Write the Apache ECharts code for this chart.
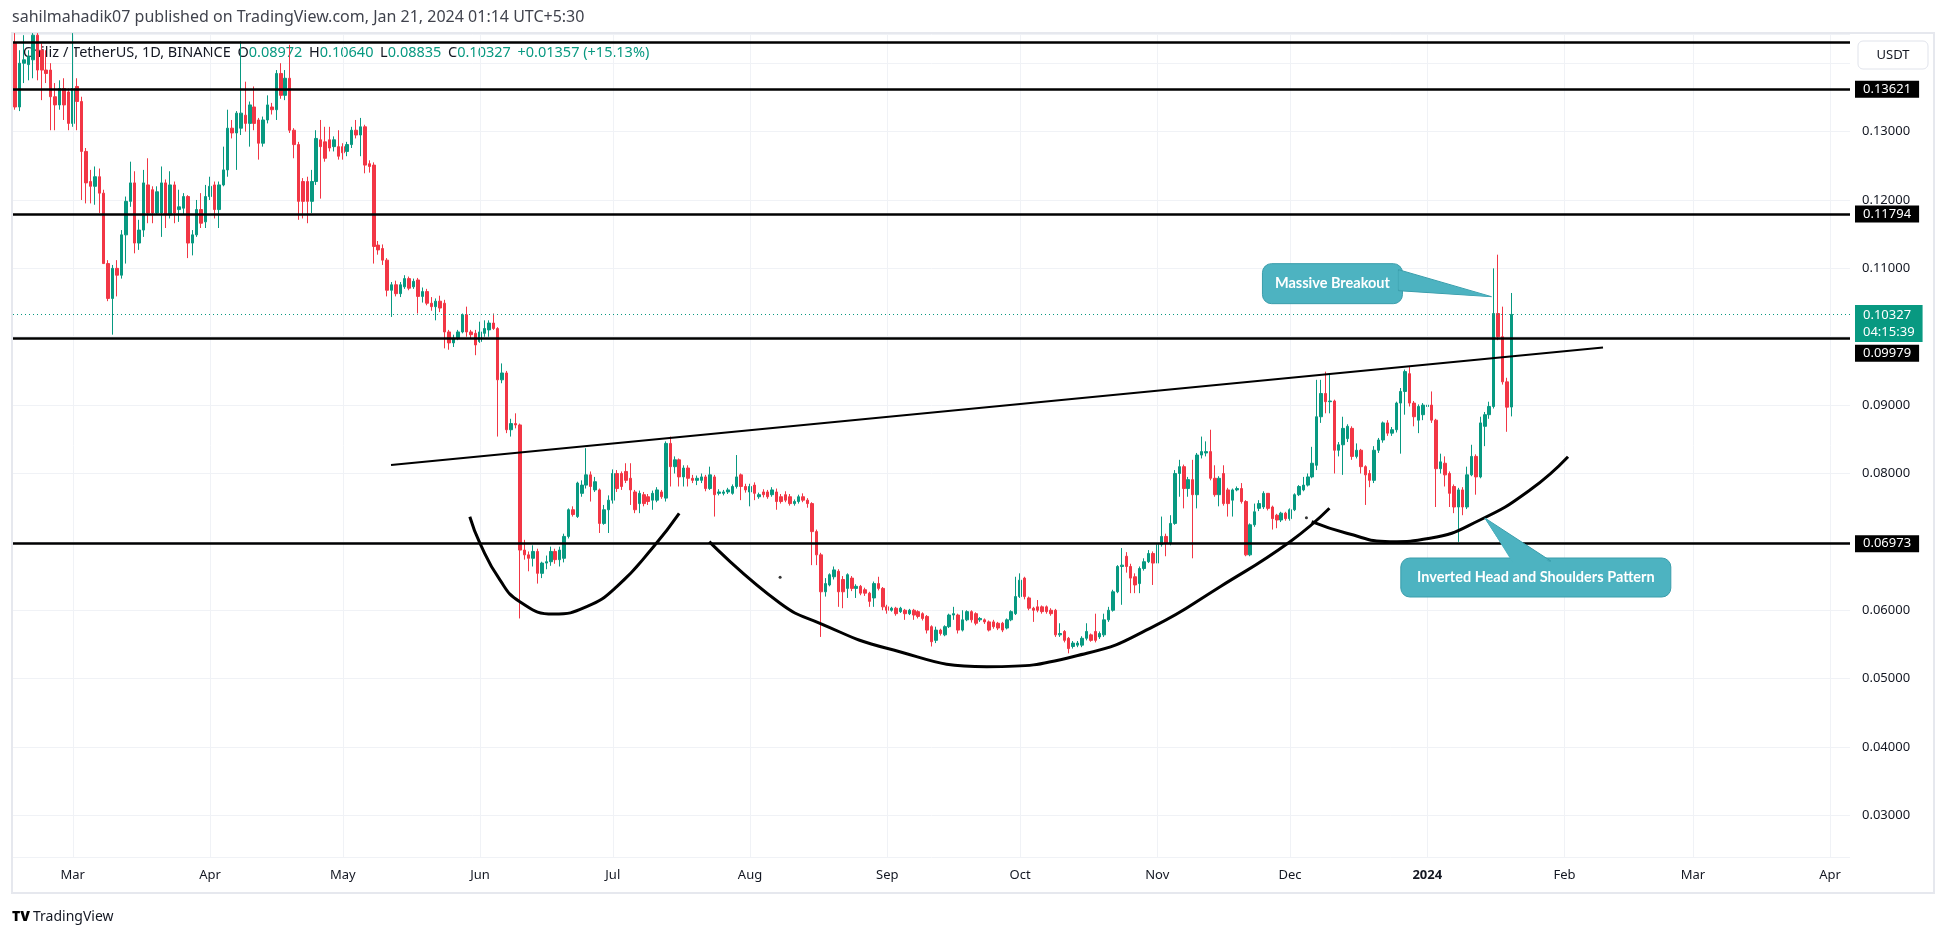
<!DOCTYPE html>
<html><head><meta charset="utf-8">
<script src="https://cdn.jsdelivr.net/npm/echarts@6/dist/echarts.min.js"></script>
<style>html,body{margin:0;padding:0;background:#fff}#c{width:1946px;height:937px}</style>
</head><body><div id="c"></div>
<script>
// ---------- DATA ----------
// candle rows: [open, close, low, high], one per day from 2023-02-16
const feb23 = [
[.1429,.1336,.1332,.1444],[.1336,.1400,.1330,.1419],[.1400,.1405,.1371,.1441],[.1398,.1410,.1375,.1419],
[.1405,.1441,.1378,.1444],[.1441,.1390,.1375,.1444],[.1419,.1390,.1346,.1429],[.1390,.1385,.1371,.1419],
[.1390,.1351,.1302,.1400],[.1351,.1339,.1302,.1371],[.1339,.1363,.1332,.1375],[.1363,.1339,.1317,.1378],
[.1358,.1312,.1302,.1363]];
const mar23 = [
[.1312,.1363,.1307,.1444],[.1366,.1344,.1302,.1378],[.1344,.1271,.1200,.1351],[.1271,.1225,.1195,.1276],
[.1227,.1220,.1195,.1244],[.1220,.1234,.1193,.1249],[.1234,.1210,.1181,.1246],[.1210,.1107,.1107,.1215],
[.1107,.1056,.1052,.1112],[.1056,.1100,.1003,.1105],[.1100,.1090,.1059,.1112],[.1090,.1149,.1085,.1156],
[.1149,.1198,.1107,.1205],[.1198,.1225,.1190,.1256],[.1225,.1137,.1122,.1242],[.1137,.1156,.1127,.1171],
[.1156,.1225,.1146,.1244],[.1222,.1181,.1166,.1261],[.1215,.1181,.1166,.1220],[.1181,.1212,.1178,.1220],
[.1181,.1225,.1146,.1249],[.1225,.1178,.1159,.1230],[.1178,.1222,.1173,.1242],[.1222,.1181,.1166,.1227],
[.1186,.1190,.1168,.1215],[.1188,.1205,.1178,.1210],[.1205,.1137,.1115,.1207],[.1137,.1149,.1119,.1156],
[.1149,.1186,.1146,.1200],[.1186,.1166,.1159,.1210],[.1168,.1205,.1159,.1222]];
const apr23 = [
[.1205,.1220,.1200,.1234],[.1222,.1186,.1173,.1227],[.1186,.1222,.1159,.1227],[.1222,.1244,.1220,.1278],
[.1244,.1305,.1234,.1332],[.1305,.1298,.1290,.1317],[.1298,.1327,.1244,.1330],[.1305,.1327,.1295,.1432],
[.1324,.1312,.1300,.1373],[.1312,.1339,.1278,.1344],[.1336,.1312,.1302,.1366],[.1317,.1283,.1259,.1320],
[.1283,.1317,.1278,.1322],[.1317,.1339,.1312,.1353],[.1336,.1332,.1325,.1342],[.1332,.1385,.1317,.1390],
[.1385,.1353,.1348,.1400],[.1353,.1378,.1346,.1390],[.1378,.1302,.1298,.1427],[.1302,.1281,.1261,.1305],
[.1281,.1198,.1171,.1285],[.1227,.1198,.1173,.1232],[.1227,.1198,.1166,.1234],[.1198,.1227,.1181,.1244],
[.1227,.1290,.1222,.1302],[.1288,.1278,.1202,.1317],[.1285,.1261,.1256,.1307],[.1288,.1276,.1271,.1307],
[.1278,.1288,.1271,.1293],[.1278,.1264,.1259,.1302]];
const may23 = [
[.1278,.1269,.1259,.1283],[.1271,.1281,.1264,.1285],[.1281,.1302,.1276,.1307],[.1302,.1295,.1290,.1317],
[.1295,.1307,.1264,.1320],[.1307,.1251,.1239,.1310],[.1253,.1249,.1240,.1258],[.1251,.1132,.1107,.1255],
[.1134,.1127,.1120,.1140],[.1129,.1112,.1105,.1135],[.1112,.1068,.1059,.1115],[.1068,.1076,.1029,.1080],
[.1076,.1063,.1059,.1082],[.1063,.1076,.1058,.1080],[.1073,.1085,.1070,.1090],[.1085,.1071,.1068,.1088],
[.1073,.1081,.1070,.1085],[.1083,.1059,.1034,.1086],[.1059,.1066,.1050,.1072],[.1066,.1049,.1046,.1070],
[.1049,.1044,.1038,.1058],[.1044,.1052,.1024,.1056],[.1052,.1042,.1036,.1060],[.1049,.1007,.0983,.1054],
[.1007,.0991,.0981,.1010],[.0991,.0998,.0985,.1003],[.0998,.1007,.0995,.1010],[.1007,.1032,.1005,.1034],
[.1032,.1007,.1000,.1044],[.1007,.1003,.0998,.1010],[.1005,.0988,.0973,.1010]];
const jun23 = [
[.0993,.1007,.0991,.1022],[.1005,.1012,.1000,.1024],[.1010,.1020,.1000,.1024],[.1020,.1012,.1010,.1034],
[.1012,.0937,.0854,.1014],[.0937,.0947,.0932,.0961],[.0947,.0864,.0859,.0950],[.0864,.0873,.0854,.0880],
[.0873,.0871,.0866,.0888],[.0871,.0688,.0588,.0873],[.0688,.0681,.0674,.0703],[.0681,.0676,.0657,.0686],
[.0676,.0686,.0664,.0695],[.0686,.0654,.0639,.0690],[.0654,.0669,.0647,.0671],[.0669,.0671,.0660,.0680],
[.0671,.0686,.0665,.0693],[.0686,.0674,.0668,.0690],[.0674,.0688,.0664,.0693],[.0676,.0708,.0670,.0712],
[.0708,.0747,.0705,.0749],[.0747,.0740,.0737,.0752],[.0737,.0786,.0735,.0788],[.0771,.0783,.0766,.0790],
[.0783,.0798,.0778,.0837],[.0798,.0781,.0759,.0803],[.0776,.0788,.0773,.0795],[.0776,.0727,.0713,.0778],
[.0727,.0747,.0725,.0754],[.0747,.0761,.0713,.0768]];
const jul23 = [
[.0761,.0800,.0756,.0806],[.0800,.0778,.0773,.0805],[.0800,.0781,.0776,.0803],[.0803,.0790,.0786,.0815],
[.0793,.0776,.0754,.0815],[.0773,.0747,.0742,.0776],[.0756,.0771,.0742,.0775],[.0769,.0756,.0752,.0773],
[.0766,.0759,.0754,.0770],[.0761,.0771,.0747,.0775],[.0761,.0776,.0758,.0780],[.0773,.0766,.0763,.0776],
[.0764,.0844,.0759,.0847],[.0844,.0810,.0781,.0854],[.0810,.0820,.0800,.0825],[.0820,.0795,.0781,.0822],
[.0795,.0808,.0781,.0812],[.0808,.0793,.0781,.0812],[.0793,.0790,.0786,.0798],[.0790,.0793,.0783,.0797],
[.0790,.0795,.0786,.0800],[.0795,.0778,.0774,.0798],[.0778,.0798,.0776,.0810],[.0795,.0769,.0737,.0798],
[.0771,.0773,.0768,.0777],[.0771,.0773,.0768,.0776],[.0773,.0776,.0770,.0779],[.0771,.0781,.0769,.0784],
[.0781,.0795,.0778,.0827],[.0798,.0781,.0761,.0800],[.0781,.0776,.0772,.0785]];
const aug23 = [
[.0773,.0781,.0752,.0785],[.0783,.0771,.0761,.0787],[.0766,.0769,.0763,.0772],[.0773,.0769,.0765,.0777],
[.0773,.0766,.0763,.0776],[.0769,.0776,.0766,.0780],[.0773,.0759,.0747,.0778],[.0766,.0759,.0756,.0770],
[.0769,.0761,.0758,.0774],[.0766,.0756,.0753,.0770],[.0756,.0759,.0753,.0762],[.0759,.0766,.0756,.0769],
[.0766,.0761,.0758,.0771],[.0761,.0756,.0750,.0764],[.0756,.0715,.0666,.0758],[.0715,.0681,.0666,.0718],
[.0681,.0627,.0561,.0684],[.0627,.0639,.0620,.0647],[.0637,.0652,.0635,.0654],[.0649,.0659,.0645,.0664],
[.0657,.0627,.0605,.0660],[.0645,.0627,.0603,.0650],[.0632,.0652,.0618,.0654],[.0647,.0632,.0628,.0650],
[.0632,.0635,.0618,.0638],[.0635,.0625,.0622,.0637],[.0630,.0625,.0621,.0633],[.0625,.0613,.0605,.0627],
[.0618,.0639,.0605,.0642],[.0639,.0632,.0629,.0649],[.0632,.0605,.0600,.0634]];
const sep23 = [
[.0605,.0600,.0595,.0608],[.0600,.0603,.0598,.0605],[.0603,.0595,.0592,.0605],[.0598,.0603,.0596,.0605],
[.0600,.0595,.0586,.0602],[.0595,.0600,.0593,.0602],[.0600,.0593,.0586,.0602],[.0598,.0591,.0588,.0600],
[.0595,.0588,.0585,.0597],[.0591,.0571,.0566,.0593],[.0576,.0554,.0547,.0578],[.0556,.0571,.0552,.0576],
[.0571,.0566,.0563,.0573],[.0564,.0576,.0562,.0578],[.0576,.0593,.0574,.0595],[.0593,.0595,.0586,.0605],
[.0593,.0571,.0566,.0595],[.0571,.0586,.0569,.0600],[.0586,.0598,.0584,.0600],[.0598,.0586,.0582,.0600],
[.0595,.0581,.0578,.0597],[.0586,.0588,.0583,.0590],[.0586,.0583,.0580,.0588],[.0583,.0571,.0569,.0585],
[.0583,.0576,.0573,.0586],[.0581,.0574,.0571,.0583],[.0581,.0571,.0568,.0583],[.0574,.0586,.0572,.0588],
[.0586,.0598,.0584,.0600],[.0595,.0620,.0593,.0649]];
const oct23 = [
[.0620,.0644,.0618,.0654],[.0647,.0620,.0616,.0649],[.0618,.0603,.0600,.0620],[.0603,.0600,.0583,.0605],
[.0605,.0600,.0597,.0615],[.0605,.0598,.0595,.0607],[.0605,.0598,.0595,.0607],[.0600,.0595,.0592,.0603],
[.0600,.0564,.0561,.0602],[.0564,.0566,.0561,.0581],[.0569,.0556,.0553,.0571],[.0559,.0544,.0537,.0561],
[.0547,.0552,.0544,.0555],[.0549,.0552,.0546,.0555],[.0549,.0559,.0546,.0562],[.0559,.0569,.0556,.0581],
[.0564,.0556,.0554,.0566],[.0569,.0556,.0553,.0595],[.0561,.0566,.0558,.0569],[.0564,.0586,.0561,.0595],
[.0586,.0600,.0583,.0605],[.0600,.0627,.0598,.0630],[.0627,.0664,.0625,.0666],[.0664,.0666,.0608,.0691],
[.0679,.0664,.0655,.0685],[.0664,.0647,.0625,.0668],[.0649,.0637,.0625,.0654],[.0639,.0661,.0625,.0664],
[.0661,.0671,.0658,.0676],[.0671,.0683,.0669,.0688],[.0683,.0669,.0637,.0686]];
const nov23 = [
[.0669,.0696,.0649,.0700],[.0696,.0708,.0693,.0737],[.0708,.0698,.0679,.0712],[.0698,.0727,.0695,.0739],
[.0727,.0800,.0725,.0805],[.0800,.0810,.0766,.0820],[.0810,.0778,.0749,.0813],[.0778,.0791,.0766,.0795],
[.0791,.0769,.0676,.0820],[.0769,.0827,.0749,.0830],[.0827,.0832,.0822,.0854],[.0830,.0832,.0825,.0847],
[.0832,.0793,.0790,.0864],[.0793,.0769,.0766,.0812],[.0769,.0793,.0752,.0796],[.0800,.0756,.0753,.0812],
[.0776,.0756,.0737,.0779],[.0761,.0776,.0737,.0778],[.0776,.0778,.0774,.0781],[.0778,.0759,.0756,.0786],
[.0759,.0681,.0679,.0761],[.0681,.0725,.0679,.0727],[.0725,.0744,.0722,.0756],[.0749,.0756,.0745,.0761],
[.0751,.0771,.0748,.0774],[.0771,.0749,.0746,.0771],[.0751,.0734,.0718,.0753],[.0739,.0732,.0720,.0741],
[.0732,.0742,.0729,.0744],[.0742,.0734,.0731,.0744]];
const dec23 = [
[.0734,.0747,.0731,.0749],[.0747,.0769,.0745,.0771],[.0769,.0781,.0767,.0783],[.0776,.0783,.0774,.0795],
[.0783,.0795,.0781,.0800],[.0795,.0815,.0793,.0839],[.0812,.0883,.0805,.0937],[.0883,.0917,.0874,.0937],
[.0917,.0905,.0888,.0949],[.0905,.0906,.0888,.0946],[.0906,.0834,.0800,.0908],[.0834,.0842,.0825,.0846],
[.0842,.0866,.0798,.0883],[.0851,.0869,.0846,.0872],[.0866,.0825,.0820,.0869],[.0825,.0834,.0822,.0844],
[.0834,.0810,.0800,.0836],[.0810,.0798,.0754,.0812],[.0800,.0790,.0780,.0805],[.0790,.0834,.0786,.0840],
[.0834,.0849,.0830,.0852],[.0849,.0874,.0845,.0876],[.0874,.0859,.0855,.0878],[.0859,.0864,.0855,.0868],
[.0864,.0903,.0860,.0905],[.0903,.0920,.0829,.0925],[.0920,.0949,.0886,.0952],[.0946,.0903,.0898,.0956],
[.0903,.0883,.0869,.0906],[.0878,.0898,.0859,.0901],[.0886,.0900,.0878,.0903]];
const jan24 = [
[.0898,.0900,.0876,.0908],[.0900,.0878,.0874,.0920],[.0878,.0807,.0751,.0880],[.0807,.0817,.0800,.0829],
[.0815,.0798,.0781,.0825],[.0800,.0771,.0751,.0803],[.0781,.0751,.0742,.0784],[.0751,.0776,.0700,.0779],
[.0776,.0751,.0739,.0780],[.0751,.0798,.0748,.0810],[.0798,.0825,.0796,.0842],[.0825,.0795,.0769,.0828],
[.0795,.0874,.0793,.0883],[.0869,.0886,.0840,.0890],[.0886,.0898,.0880,.0905],[.0898,.1034,.0895,.1100],
[.1034,.1000,.0995,.1120],[.1000,.0934,.0930,.1044],[.0934,.0897,.0861,.0940],[.08972,.10327,.08835,.10640]];

const startDate = '2023-02-16';
const dayCount = 415;                       // category slots on the time axis (to 2024-04-05)
const levels = [0.1431, 0.13621, 0.11794, 0.09979, 0.06973];
const levelLabels = ['', '0.13621', '0.11794', '0.09979', '0.06973'];
const countdown = '04:15:39';
// drawings: [day offset from 2023-03-01, price]
const trendline = [[71.9, 0.08124], [345.7, 0.09843]];
const leftShoulder = [[89.7,0.07368],[92.0,0.06979],[96.5,0.06443],[101.0,0.06125],[108.6,0.05945],[116.1,0.06052],[122.9,0.06345],[131.2,0.06930],[137.0,0.07418]];
const headCurve = [[143.8,0.07003],[159.8,0.06102],[168.8,0.05809],[183.9,0.05444],[206.5,0.05175],[229.1,0.05371],[244.1,0.05760],[259.2,0.06345],[275.0,0.07003],[283.9,0.07491]];
const rightShoulder = [[279.9,0.07295],[287.8,0.07126],[297.6,0.07003],[306.6,0.07052],[317.9,0.07320],[329.2,0.07759],[337.8,0.08246]];
const dots = [[159.8,0.06482],[278.7,0.07354]];
const calloutTexts = ['Massive Breakout', 'Inverted Head and Shoulders Pattern'];
const calloutTips = [[320.5, 0.10586], [319.0, 0.07349]];
const titleText = 'sahilmahadik07 published on TradingView.com, Jan 21, 2024 01:14 UTC+5:30';
const symbolText = 'Chiliz / TetherUS, 1D, BINANCE';

// ---------- BUILD ----------
const candles = [].concat(feb23, mar23, apr23, may23, jun23, jul23, aug23, sep23, oct23, nov23, dec23, jan24);
const t0 = Date.parse(startDate + 'T00:00:00Z');
const dates = [];
for (let i = 0; i < dayCount; i++) dates.push(new Date(t0 + i * 86400000).toISOString().slice(0, 10));
const monthStarts = dates.filter(d => d.slice(8) === '01');
const MON = ['Jan','Feb','Mar','Apr','May','Jun','Jul','Aug','Sep','Oct','Nov','Dec'];
const offset0 = dates.indexOf('2023-03-01');   // value-axis day 0
const last = candles[candles.length - 1];
const prev = candles[candles.length - 2];
const lastPrice = last[1];
const chg = last[1] - prev[1];
const pct = chg / prev[1] * 100;
const UP = '#089981', DOWN = '#F23645';
const FONT = '"Noto Sans", Roboto, sans-serif';

const chart = echarts.init(document.getElementById('c'), null, {renderer: 'canvas'});
const gridTop = 34, gridBottom = 80;
const yMax = 0.144273, yMin = 0.023916;

chart.setOption({
  animation: false,
  backgroundColor: '#ffffff',
  grid: {left: 13, right: 96, top: gridTop, bottom: gridBottom, containLabel: false},
  xAxis: [{
    type: 'category', data: dates, boundaryGap: true,
    axisLine: {show: false}, axisTick: {show: false}, splitLine: {show: false},
    axisLabel: {
      interval: (i, v) => v.slice(8) === '01', margin: 12,
      color: '#131722', fontSize: 13, fontFamily: FONT,
      formatter: v => { const m = +v.slice(5, 7); return m === 1 ? '{b|' + v.slice(0, 4) + '}' : MON[m - 1]; },
      rich: {b: {fontWeight: 'bold', fontSize: 13, fontFamily: FONT, color: '#131722'}}
    }
  }, {
    type: 'value', min: -offset0 - 0.5, max: dayCount - offset0 - 0.5, show: false
  }],
  yAxis: [{
    type: 'value', position: 'right', min: yMin, max: yMax, scale: true,
    minInterval: 0.01, maxInterval: 0.01, splitNumber: 12,
    axisLine: {show: false}, axisTick: {show: false},
    splitLine: {show: true, lineStyle: {color: '#f0f2f6', width: 1}},
    axisLabel: {margin: 12, color: '#131722', fontSize: 13, fontFamily: FONT,
      showMinLabel: false, showMaxLabel: false, formatter: v => v.toFixed(5)}
  }],
  series: [
    { // month grid lines
      type: 'line', data: [], z: 1, silent: true,
      markLine: {silent: true, symbol: 'none', label: {show: false}, precision: 6,
        lineStyle: {color: '#f0f2f6', type: 'solid', width: 1},
        data: monthStarts.map(m => ({xAxis: m}))}
    },
    { // last price dotted line
      type: 'line', data: [], z: 1, silent: true,
      markLine: {silent: true, symbol: 'none', precision: 6,
        lineStyle: {color: UP, type: [1, 3], width: 1},
        label: {show: true, position: 'end', distance: 5, offset: [0, 9],
          formatter: () => lastPrice.toFixed(5) + '\n' + countdown,
          backgroundColor: UP, color: '#fff', fontSize: 13, fontFamily: FONT, lineHeight: 17,
          padding: [2, 8, 1, 8]},
        data: [{yAxis: lastPrice}]}
    },
    {
      type: 'candlestick', data: candles, z: 2, barWidth: 3,
      itemStyle: {color: UP, color0: DOWN, borderColor: UP, borderColor0: DOWN, borderWidth: 1}
    },
    { // horizontal levels
      type: 'line', data: [], z: 4, silent: true,
      markLine: {silent: true, symbol: 'none', precision: 6,
        lineStyle: {color: '#000', type: 'solid', width: 2.5},
        data: levels.map((v, i) => ({
          yAxis: v,
          label: {show: !!levelLabels[i], position: 'end', distance: 5,
            offset: levelLabels[i] === '0.09979' ? [0, 15] : [0, 0],
            formatter: levelLabels[i], backgroundColor: '#000', color: '#fff',
            fontSize: 13, fontFamily: FONT, lineHeight: 15, padding: [1, 8, 1, 8]}
        }))}
    },
    {type: 'line', xAxisIndex: 1, data: trendline, z: 5, symbol: 'none', silent: true,
      lineStyle: {color: '#000', width: 2}},
    {type: 'line', xAxisIndex: 1, data: leftShoulder, z: 5, symbol: 'none', smooth: 0.5, silent: true,
      lineStyle: {color: '#000', width: 3}},
    {type: 'line', xAxisIndex: 1, data: headCurve, z: 5, symbol: 'none', smooth: 0.5, silent: true,
      lineStyle: {color: '#000', width: 3}},
    {type: 'line', xAxisIndex: 1, data: rightShoulder, z: 5, symbol: 'none', smooth: 0.5, silent: true,
      lineStyle: {color: '#000', width: 3}},
    {type: 'scatter', xAxisIndex: 1, data: dots, z: 5, symbolSize: 3, silent: true, itemStyle: {color: '#000'}},
    {
      type: 'custom', xAxisIndex: 1, z: 6, silent: true, clip: false,
      data: calloutTips,
      renderItem: (params, api) => {
        const p = api.coord([api.value(0), api.value(1)]);
        const i = params.dataIndex;
        const fill = '#4db3c1', stroke = '#3a9dab';
        let box, wedge;
        if (i === 0) {
          box = {x: p[0] - 229, y: p[1] - 33, width: 140, height: 40};
          wedge = [[box.x + 136, box.y + 6], [p[0], p[1]], [box.x + 136, box.y + 27]];
        } else {
          box = {x: p[0] - 84, y: p[1] + 40, width: 270, height: 39};
          wedge = [[p[0] + 28, box.y + 3], [p[0], p[1]], [p[0] + 66, box.y + 3]];
        }
        return {type: 'group', children: [
          {type: 'rect', shape: Object.assign({r: 9}, box), style: {fill: fill, stroke: stroke, lineWidth: 1}},
          {type: 'polygon', shape: {points: wedge}, style: {fill: fill, stroke: stroke, lineWidth: 1}},
          {type: 'polygon', shape: {points: [[wedge[0][0], wedge[0][1] + (i === 0 ? 1 : 2)], wedge[1].slice(), [wedge[2][0], wedge[2][1] + (i === 0 ? -1 : 2)]]}, style: {fill: fill}},
          {type: 'text', style: {text: calloutTexts[i], x: box.x + box.width / 2, y: box.y + box.height / 2,
            align: 'center', verticalAlign: 'middle', fill: '#fff', font: 'bold 14.5px Lato, "Noto Sans", sans-serif'}}
        ]};
      }
    }
  ],
  graphic: [
    {type: 'rect', z: 0, silent: true, shape: {x: 12, y: 33, width: 1922, height: 860},
      style: {fill: 'none', stroke: '#e6e8ee', lineWidth: 2}},
    {type: 'text', z: 0, left: 12, top: 9, style: {text: titleText, fill: '#40434d', font: '16px ' + FONT}},
    {type: 'text', z: 0, left: 23, top: 45, style: {
      text: '{n|' + symbolText + '}  {k|O}{v|' + last[0].toFixed(5) + '}  {k|H}{v|' + last[3].toFixed(5) +
            '}  {k|L}{v|' + last[2].toFixed(5) + '}  {k|C}{v|' + last[1].toFixed(5) + '}  {v|+' + chg.toFixed(5) +
            ' (+' + pct.toFixed(2) + '%)}',
      rich: {n: {fill: '#131722', font: '14.5px ' + FONT}, k: {fill: '#131722', font: '14.5px ' + FONT},
             v: {fill: UP, font: '14.5px ' + FONT}}}},
    {type: 'rect', z: 100, zlevel: 1, shape: {x: 1858, y: 41, width: 70, height: 28, r: 5},
      style: {fill: '#fff', stroke: '#e0e3eb', lineWidth: 1}},
    {type: 'text', z: 101, zlevel: 1, style: {text: 'USDT', x: 1893, y: 55, align: 'center', verticalAlign: 'middle',
      fill: '#131722', font: '13px ' + FONT}},
    {type: 'text', z: 0, style: {text: 'TV', x: 12, y: 917, verticalAlign: 'middle', fill: '#000', font: '900 14px ' + FONT}},
    {type: 'text', z: 0, style: {text: 'TradingView', x: 33, y: 917, verticalAlign: 'middle', fill: '#131722', font: '14px ' + FONT}}
  ]
});
</script></body></html>
